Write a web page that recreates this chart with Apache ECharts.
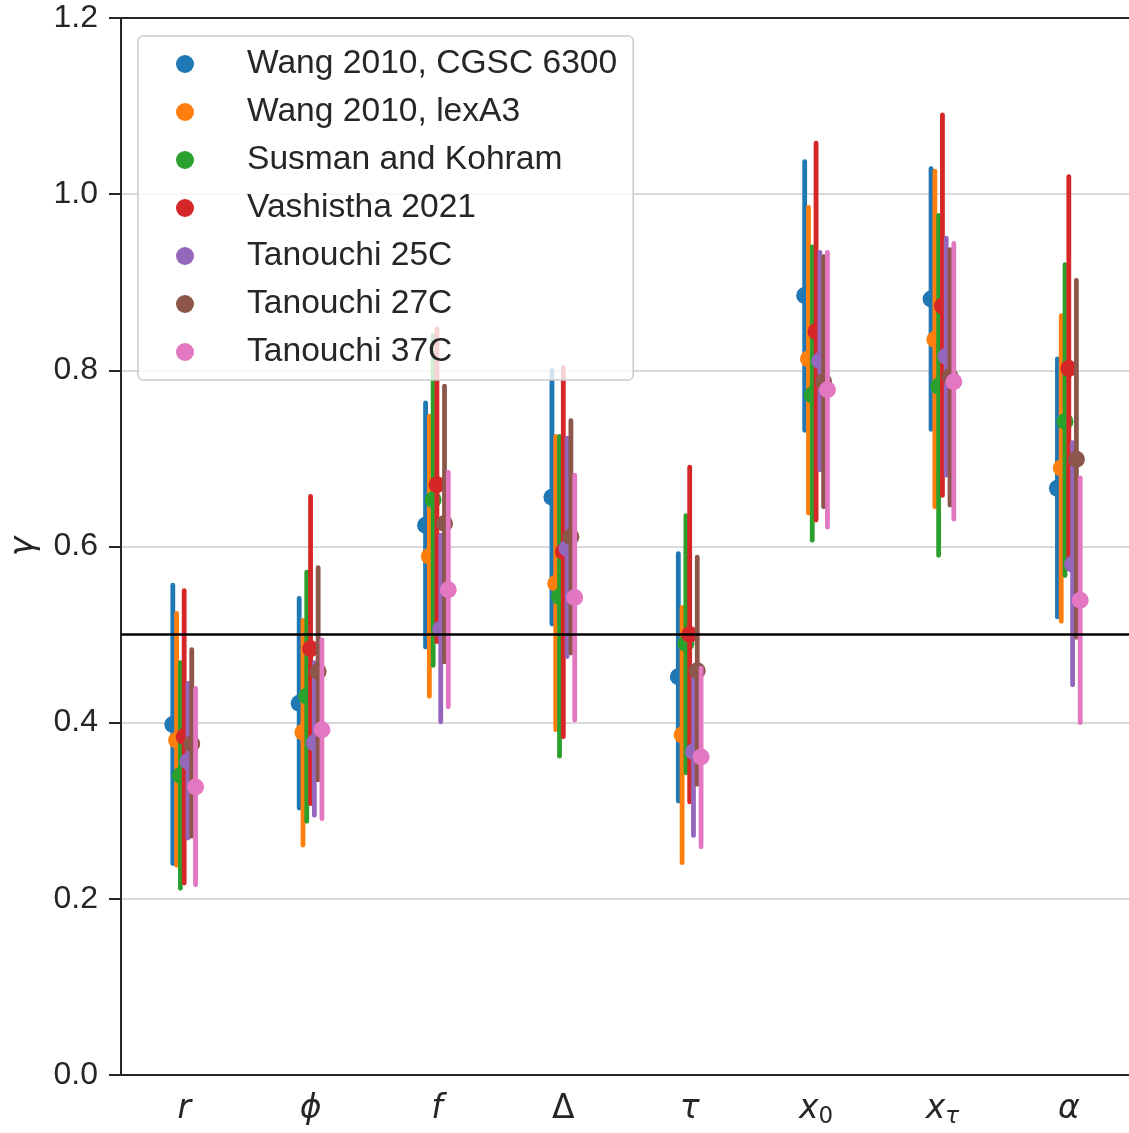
<!DOCTYPE html>
<html>
<head>
<meta charset="utf-8">
<script src="https://cdn.jsdelivr.net/npm/echarts@6/dist/echarts.min.js"></script>
<style>
  html, body { margin: 0; padding: 0; background: #fff; }
  #chart { width: 1129px; height: 1133px; }
</style>
</head>
<body>
<div id="chart"></div>
<script>
// parameters on the x axis
const categories = ['r', 'ϕ', 'f', 'Δ', 'τ', 'x0', 'xτ', 'α'];
const yTicks = [0, 0.2, 0.4, 0.6, 0.8, 1.0, 1.2];

// one entry per dataset: point value, lower end, upper end
const wang6300Mean = [0.398, 0.422, 0.624, 0.656, 0.452, 0.885, 0.881, 0.666];
const wang6300Low  = [0.240, 0.303, 0.486, 0.512, 0.311, 0.732, 0.733, 0.520];
const wang6300High = [0.556, 0.541, 0.763, 0.800, 0.592, 1.037, 1.029, 0.813];

const wangLexMean = [0.380, 0.389, 0.589, 0.558, 0.386, 0.813, 0.835, 0.689];
const wangLexLow  = [0.238, 0.261, 0.430, 0.392, 0.241, 0.638, 0.645, 0.515];
const wangLexHigh = [0.524, 0.516, 0.748, 0.725, 0.531, 0.985, 1.026, 0.862];

const susmanMean = [0.340, 0.430, 0.653, 0.543, 0.490, 0.772, 0.782, 0.742];
const susmanLow  = [0.212, 0.288, 0.465, 0.362, 0.343, 0.607, 0.590, 0.567];
const susmanHigh = [0.468, 0.571, 0.840, 0.725, 0.635, 0.940, 0.976, 0.920];

const vashisthaMean = [0.384, 0.484, 0.670, 0.594, 0.500, 0.844, 0.873, 0.802];
const vashisthaLow  = [0.218, 0.308, 0.492, 0.384, 0.310, 0.630, 0.658, 0.582];
const vashisthaHigh = [0.550, 0.657, 0.847, 0.803, 0.690, 1.058, 1.090, 1.020];

const tan25Mean = [0.356, 0.377, 0.506, 0.598, 0.367, 0.811, 0.816, 0.580];
const tan25Low  = [0.269, 0.295, 0.401, 0.475, 0.272, 0.687, 0.681, 0.443];
const tan25High = [0.445, 0.468, 0.613, 0.723, 0.464, 0.934, 0.950, 0.718];

const tan27Mean = [0.376, 0.458, 0.626, 0.611, 0.459, 0.787, 0.793, 0.699];
const tan27Low  = [0.271, 0.335, 0.469, 0.479, 0.330, 0.645, 0.647, 0.497];
const tan27High = [0.483, 0.576, 0.782, 0.743, 0.588, 0.929, 0.937, 0.902];

const tan37Mean = [0.327, 0.392, 0.551, 0.542, 0.361, 0.778, 0.787, 0.539];
const tan37Low  = [0.216, 0.291, 0.418, 0.403, 0.259, 0.622, 0.631, 0.400];
const tan37High = [0.439, 0.494, 0.684, 0.681, 0.462, 0.934, 0.944, 0.678];

const seriesNames = ['Wang 2010, CGSC 6300', 'Wang 2010, lexA3', 'Susman and Kohram',
  'Vashistha 2021', 'Tanouchi 25C', 'Tanouchi 27C', 'Tanouchi 37C'];
const colors = ['#1f77b4', '#ff7f0e', '#2ca02c', '#d62728', '#9467bd', '#8c564b', '#e377c2'];

const groups = [
  [wang6300Mean, wang6300Low, wang6300High],
  [wangLexMean, wangLexLow, wangLexHigh],
  [susmanMean, susmanLow, susmanHigh],
  [vashisthaMean, vashisthaLow, vashisthaHigh],
  [tan25Mean, tan25Low, tan25High],
  [tan27Mean, tan27Low, tan27High],
  [tan37Mean, tan37Low, tan37High]
];

const textColor = '#262626';
const sansFont = '"Liberation Sans", Arial, sans-serif';
const mathFont = '"DejaVu Sans", sans-serif';

// axis labels as mathtext-like rich text
const labelRich = {
  '0': '{i|r}', '1': '{i|ϕ}', '2': '{i|f}', '3': '{u|Δ}',
  '4': '{i|τ}', '5': '{i|x}{s|0}', '6': '{i|x}{si|τ}', '7': '{i|α}'
};

const chart = echarts.init(document.getElementById('chart'));

const series = groups.map(function (g, si) {
  const rows = categories.map(function (c, ci) {
    return [ci, g[0][ci], g[1][ci], g[2][ci]];
  });
  return {
    name: seriesNames[si],
    type: 'custom',
    z: 3,
    itemStyle: { color: colors[si] },
    data: rows,
    renderItem: function (params, api) {
      const ci = api.value(0);
      const band = api.size([1, 0])[0];
      const dx = (si - 3) * 0.03 * band;
      const p = api.coord([ci, api.value(1)]);
      const lo = api.coord([ci, api.value(2)]);
      const hi = api.coord([ci, api.value(3)]);
      const x = p[0] + dx;
      return {
        type: 'group',
        children: [
          {
            type: 'line',
            shape: { x1: x, y1: lo[1], x2: x, y2: hi[1] },
            style: { stroke: colors[si], lineWidth: 4.8, lineCap: 'round' }
          },
          {
            type: 'circle',
            shape: { cx: x, cy: p[1], r: 8.5 },
            style: { fill: colors[si] }
          }
        ]
      };
    }
  };
});

// reference line at 0.5
series.unshift({
  type: 'line',
  data: [],
  z: 1,
  markLine: {
    silent: true,
    symbol: 'none',
    label: { show: false },
    lineStyle: { color: '#000', width: 2.5, type: 'solid' },
    data: [{ yAxis: 0.5 }]
  }
});

chart.setOption({
  animation: false,
  backgroundColor: '#fff',
  grid: { left: 121, right: -3, top: 18, bottom: 58, containLabel: false, outerBoundsMode: 'none' },
  legend: {
    data: seriesNames,
    orient: 'vertical',
    left: 138,
    top: 36,
    padding: [11, 16, 11, 38],
    itemWidth: 18,
    itemHeight: 18,
    itemGap: 14,
    icon: 'circle',
    backgroundColor: 'rgba(255,255,255,0.8)',
    borderColor: '#cccccc',
    borderWidth: 1.5,
    borderRadius: 5,
    textStyle: {
      fontFamily: sansFont,
      fontSize: 33.6,
      lineHeight: 34,
      color: textColor,
      padding: [0, 0, 0, 48]
    }
  },
  xAxis: [
    {
      type: 'category',
      data: categories,
      axisLine: { lineStyle: { color: textColor, width: 2 } },
      axisTick: { alignWithLabel: true, length: 11, lineStyle: { color: textColor, width: 2 } },
      axisLabel: {
        margin: 14,
        formatter: function (v, i) { return labelRich[String(i)]; },
        rich: {
          i: { fontFamily: mathFont, fontStyle: 'italic', fontSize: 33, lineHeight: 40, color: textColor },
          u: { fontFamily: mathFont, fontSize: 33, lineHeight: 40, color: textColor },
          s: { fontFamily: mathFont, fontSize: 23, lineHeight: 20, verticalAlign: 'bottom', color: textColor },
          si: { fontFamily: mathFont, fontStyle: 'italic', fontSize: 23, lineHeight: 20, verticalAlign: 'bottom', color: textColor }
        }
      },
      splitLine: { show: false }
    },
    {
      type: 'category',
      data: categories,
      position: 'top',
      axisLine: { lineStyle: { color: textColor, width: 2 } },
      axisTick: { show: false },
      axisLabel: { show: false },
      splitLine: { show: false }
    }
  ],
  yAxis: {
    type: 'value',
    min: yTicks[0],
    max: yTicks[yTicks.length - 1],
    interval: 0.2,
    name: 'γ',
    nameLocation: 'middle',
    nameRotate: 90,
    nameGap: 80,
    nameTextStyle: { fontFamily: mathFont, fontStyle: 'italic', fontSize: 33, color: textColor },
    axisLine: { show: true, lineStyle: { color: textColor, width: 2 } },
    axisTick: { show: true, length: 12, lineStyle: { color: textColor, width: 2 } },
    axisLabel: {
      margin: 23,
      fontFamily: sansFont,
      fontSize: 32,
      color: textColor,
      formatter: function (v) { return v.toFixed(1); }
    },
    splitLine: { show: true, lineStyle: { color: '#cccccc', width: 1.5 } }
  },
  series: series
});
</script>
</body>
</html>
